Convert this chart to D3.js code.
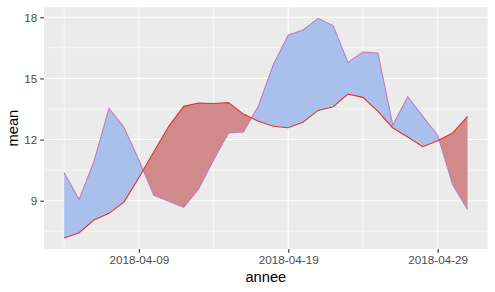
<!DOCTYPE html>
<html>
<head>
<meta charset="utf-8">
<style>
    body { margin: 0; background: #fff; }
    text { font-family: "Liberation Sans", Arial, sans-serif; }
</style>
</head>
<body>
<svg class="chart"></svg>
<script src="https://d3js.org/d3.v7.min.js" charset="utf-8"></script>
<script>
    // one point per day, 2018-04-04 .. 2018-05-01
    var dates = ['2018-04-04', '2018-04-05', '2018-04-06', '2018-04-07', '2018-04-08', '2018-04-09', '2018-04-10',
        '2018-04-11', '2018-04-12', '2018-04-13', '2018-04-14', '2018-04-15', '2018-04-16', '2018-04-17',
        '2018-04-18', '2018-04-19', '2018-04-20', '2018-04-21', '2018-04-22', '2018-04-23', '2018-04-24',
        '2018-04-25', '2018-04-26', '2018-04-27', '2018-04-28', '2018-04-29', '2018-04-30', '2018-05-01'];
    var meanA = [10.37, 9.06, 10.94, 13.53, 12.60, 11.0, 9.27, 8.98, 8.67, 9.58, 11.0, 12.32, 12.37, 13.65,
        15.67, 17.13, 17.38, 17.95, 17.59, 15.78, 16.29, 16.24, 12.70, 14.10, 13.14, 12.21, 9.80, 8.57];
    var meanB = [7.17, 7.43, 8.05, 8.38, 8.93, 10.13, 11.4, 12.65, 13.63, 13.79, 13.77, 13.81, 13.25, 12.9,
        12.65, 12.58, 12.86, 13.43, 13.61, 14.23, 14.07, 13.38, 12.57, 12.13, 11.65, 11.94, 12.32, 13.14];
    var xTicks = ['2018-04-09', '2018-04-19', '2018-04-29'];
    var xMinor = ['2018-04-04', '2018-04-14', '2018-04-24'];
    var yTicks = [9, 12, 15, 18];
    var yMinor = [7.5, 10.5, 13.5, 16.5];

    var width = 495,
        height = 292,
        margin = {top: 7.3, right: 7.3, bottom: 43, left: 44};

    var parse = d3.utcParse('%Y-%m-%d');
    var data = dates.map(function (d, i) {
        return {date: parse(d), a: meanA[i], b: meanB[i]};
    });

    var pw = width - margin.left - margin.right,
        ph = height - margin.top - margin.bottom;

    // ggplot-ish 5% expansion
    var tExt = d3.extent(data, function (d) { return +d.date; }),
        tPad = (tExt[1] - tExt[0]) * 0.05;
    var x = d3.scaleUtc()
        .domain([new Date(tExt[0] - tPad), new Date(tExt[1] + tPad)])
        .range([0, pw]);

    var yMin = d3.min(data, function (d) { return Math.min(d.a, d.b); }),
        yMax = d3.max(data, function (d) { return Math.max(d.a, d.b); }),
        yPad = (yMax - yMin) * 0.05;
    var y = d3.scaleLinear()
        .domain([yMin - yPad, yMax + yPad])
        .range([ph, 0]);

    var svg = d3.select('.chart')
        .attr('width', width)
        .attr('height', height);

    var g = svg.append('g')
        .attr('transform', 'translate(' + margin.left + ',' + margin.top + ')');

    g.append('rect')
        .attr('width', pw)
        .attr('height', ph)
        .attr('fill', '#ebebeb');

    // grid
    g.selectAll('.yminor').data(yMinor).enter().append('line')
        .attr('x1', 0).attr('x2', pw)
        .attr('y1', function (d) { return y(d); }).attr('y2', function (d) { return y(d); })
        .attr('stroke', '#fff').attr('stroke-width', 0.55);
    g.selectAll('.xminor').data(xMinor).enter().append('line')
        .attr('y1', 0).attr('y2', ph)
        .attr('x1', function (d) { return x(parse(d)); }).attr('x2', function (d) { return x(parse(d)); })
        .attr('stroke', '#fff').attr('stroke-width', 0.55);
    g.selectAll('.ymajor').data(yTicks).enter().append('line')
        .attr('x1', 0).attr('x2', pw)
        .attr('y1', function (d) { return y(d); }).attr('y2', function (d) { return y(d); })
        .attr('stroke', '#fff').attr('stroke-width', 1.1);
    g.selectAll('.xmajor').data(xTicks).enter().append('line')
        .attr('y1', 0).attr('y2', ph)
        .attr('x1', function (d) { return x(parse(d)); }).attr('x2', function (d) { return x(parse(d)); })
        .attr('stroke', '#fff').attr('stroke-width', 1.1);

    // split the band where the two series cross, so each piece gets one colour
    var pieces = [], cur = null;
    function push(p, up) {
        if (!cur || cur.up !== up) {
            cur = {up: up, pts: []};
            pieces.push(cur);
        }
        cur.pts.push(p);
    }
    data.forEach(function (d, i) {
        var up = d.a >= d.b;
        if (i > 0) {
            var p = data[i - 1], pu = p.a >= p.b;
            if (pu !== up) {
                var d0 = p.a - p.b, d1 = d.a - d.b, t = d0 / (d0 - d1);
                var c = {
                    date: new Date(+p.date + t * (d.date - p.date)),
                    a: p.a + t * (d.a - p.a)
                };
                c.b = c.a;
                push(c, pu);
                push(c, up);
            }
        }
        push(d, up);
    });

    var area = d3.area()
        .x(function (d) { return x(d.date); })
        .y0(function (d) { return y(d.b); })
        .y1(function (d) { return y(d.a); });

    g.selectAll('.band').data(pieces).enter().append('path')
        .attr('d', function (d) { return area(d.pts); })
        .attr('fill', function (d) { return d.up ? '#aac0ec' : '#d18a8b'; });

    var lineA = d3.line()
        .x(function (d) { return x(d.date); })
        .y(function (d) { return y(d.a); });
    var lineB = d3.line()
        .x(function (d) { return x(d.date); })
        .y(function (d) { return y(d.b); });

    g.append('path').datum(data)
        .attr('d', lineA)
        .attr('fill', 'none')
        .attr('stroke', '#bb7fc0')
        .attr('stroke-width', 1.1);
    g.append('path').datum(data)
        .attr('d', lineB)
        .attr('fill', 'none')
        .attr('stroke', '#e2342c')
        .attr('stroke-width', 1.1);

    // axes
    var xAxis = d3.axisBottom(x)
        .tickValues(xTicks.map(parse))
        .tickFormat(d3.utcFormat('%Y-%m-%d'))
        .tickSize(3.7)
        .tickPadding(3);
    var yAxis = d3.axisLeft(y)
        .tickValues(yTicks)
        .tickSize(3.7)
        .tickPadding(3);

    var gx = g.append('g')
        .attr('transform', 'translate(0,' + ph + ')')
        .call(xAxis);
    var gy = g.append('g')
        .call(yAxis);

    [gx, gy].forEach(function (ax) {
        ax.select('.domain').remove();
        ax.selectAll('line').attr('stroke', '#333').attr('stroke-width', 1.1);
        ax.selectAll('text')
            .attr('fill', '#4d4d4d')
            .style('font-size', '11.7px');
    });

    svg.append('text')
        .attr('x', margin.left + pw / 2)
        .attr('y', 282)
        .attr('text-anchor', 'middle')
        .style('font-size', '14.7px')
        .attr('fill', '#000')
        .text('annee');

    svg.append('text')
        .attr('transform', 'translate(18,' + (margin.top + ph / 2) + ') rotate(-90)')
        .attr('text-anchor', 'middle')
        .style('font-size', '14.7px')
        .attr('fill', '#000')
        .text('mean');
</script>
</body>
</html>
